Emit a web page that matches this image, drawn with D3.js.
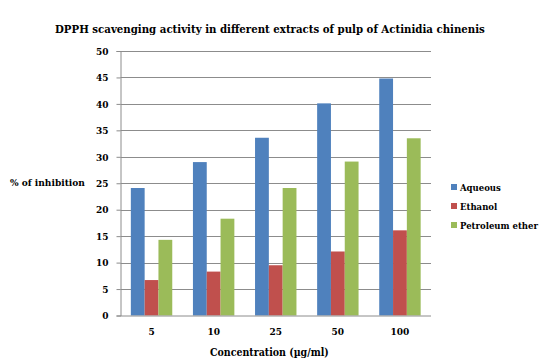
<!DOCTYPE html>
<html>
<head>
<meta charset="utf-8">
<script src="https://cdn.jsdelivr.net/npm/d3@7"></script>
<style>
  html, body { margin: 0; padding: 0; background: #fff; }
  svg { display: block; }
  text { font-family: "DejaVu Serif Condensed", "DejaVu Serif", serif; font-stretch: condensed; font-weight: bold; fill: #000; }
</style>
</head>
<body>
<svg id="chart" width="539" height="359"></svg>
<script>
// Concentrations tested (µg/ml) and % inhibition per extract
const concentrations = ["5", "10", "25", "50", "100"];
const seriesNames = ["Aqueous", "Ethanol", "Petroleum ether"];
const aqueous = [24.1, 29.0, 33.6, 40.1, 44.8];
const ethanol = [6.7, 8.3, 9.5, 12.1, 16.1];
const petroleumEther = [14.3, 18.3, 24.1, 29.1, 33.5];
const yTicks = [0, 5, 10, 15, 20, 25, 30, 35, 40, 45, 50];
const colors = ["#4F81BD", "#C0504D", "#9BBB59"];

const seriesValues = [aqueous, ethanol, petroleumEther];
const svg = d3.select("#chart");
const plot = { left: 120.5, right: 431, top: 51, bottom: 315.5 };

// Scale a text element's font size so it spans the given width
function fitWidth(sel, width, maxSize) {
  const node = sel.node();
  const size = parseFloat(sel.style("font-size"));
  const len = node.getComputedTextLength();
  sel.style("font-size", Math.min(maxSize, size * width / len) + "px");
  return sel;
}

const x0 = d3.scaleBand().domain(concentrations).range([plot.left, plot.right]).paddingInner(0.333).paddingOuter(0.1665);
const x1 = d3.scaleBand().domain(seriesNames).range([0, x0.bandwidth()]);
const y = d3.scaleLinear().domain([0, 50]).range([plot.bottom, plot.top]);

// Horizontal gridlines
svg.append("g").selectAll("line").data(yTicks.slice(1)).join("line")
  .attr("x1", plot.left).attr("x2", plot.right)
  .attr("y1", d => Math.round(y(d)) + 0.5).attr("y2", d => Math.round(y(d)) + 0.5)
  .attr("stroke", "#8c8c8c").attr("stroke-width", 1);

// Bars
const groups = svg.append("g").selectAll("g").data(concentrations).join("g")
  .attr("transform", c => `translate(${x0(c)},0)`);
groups.selectAll("rect")
  .data((c, i) => seriesNames.map((s, k) => ({ s, k, v: seriesValues[k][i] })))
  .join("rect")
  .attr("x", d => x1(d.s))
  .attr("width", x1.bandwidth())
  .attr("y", d => y(d.v))
  .attr("height", d => y(0) - y(d.v))
  .attr("fill", d => colors[d.k]);

// Y axis
const yAxis = svg.append("g").attr("transform", `translate(${plot.left},0)`)
  .call(d3.axisLeft(y).tickValues(yTicks).tickSize(4).tickPadding(8));
yAxis.select(".domain").attr("stroke", "#8c8c8c");
yAxis.selectAll(".tick line").attr("stroke", "#8c8c8c");
yAxis.selectAll(".tick text").style("font-size", "10px");

// X axis
const xAxis = svg.append("g").attr("transform", `translate(0,${plot.bottom})`)
  .call(d3.axisBottom(x0).tickSize(0).tickPadding(12));
xAxis.select(".domain").attr("stroke", "#8c8c8c").attr("d", `M${plot.left},0.5H${plot.right}`);
xAxis.selectAll(".tick text").style("font-size", "10px");

// Title and axis titles
fitWidth(svg.append("text").attr("x", 55).attr("y", 33)
  .style("font-size", "11px").text("DPPH scavenging activity in different extracts of pulp of Actinidia chinenis"), 430, 12.5);
fitWidth(svg.append("text").attr("x", 10).attr("y", 186)
  .style("font-size", "10px").text("%  of inhibition"), 75, 10.5);
fitWidth(svg.append("text").attr("x", 210).attr("y", 356)
  .style("font-size", "10px").text("Concentration  (µg/ml)"), 125, 10.5);

// Legend
const legend = svg.append("g").selectAll("g").data(seriesNames).join("g")
  .attr("transform", (d, i) => `translate(451,${184 + i * 19})`);
legend.append("rect").attr("width", 6).attr("height", 6).attr("fill", (d, i) => colors[i]);
const legendText = legend.append("text").attr("x", 9).attr("y", 7).style("font-size", "10px").text(d => d);
// Size the legend labels so the longest one ends at the right edge
const longest = d3.max(legendText.nodes(), n => n.getComputedTextLength());
legendText.style("font-size", Math.min(10.5, 10 * 78 / longest) + "px");
</script>
</body>
</html>
